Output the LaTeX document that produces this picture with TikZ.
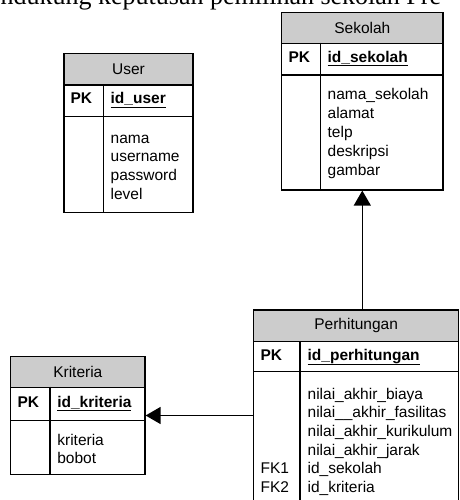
\documentclass[tikz,border=0pt]{standalone}
\usepackage{fontspec}
\setmainfont{Liberation Sans}
\newfontfamily\seriffont{Liberation Serif}
\usetikzlibrary{arrows.meta}
\begin{document}
\begin{tikzpicture}[x=1pt,y=-1pt,line width=1.3pt,
  tbl/.style={draw,inner sep=0pt,anchor=north west},
  hdr/.style={draw,fill=gray!40,inner sep=0pt,anchor=north west,font=\fontsize{15.5}{18}\selectfont},
  txt/.style={inner sep=0pt,anchor=west,text height=11pt,text depth=3pt,font=\fontsize{15.5}{18}\selectfont},
  key/.style={txt,font=\fontsize{15.5}{18}\selectfont\bfseries},
  rel/.style={-{Triangle[length=15pt,width=17pt]}}]
\useasboundingbox (0,0) rectangle (459,500);
\clip (0,0) rectangle (459,500);

% clipped running text of the page
\node[font=\seriffont\fontsize{26}{30}\selectfont,anchor=base west,inner sep=0pt] (title) at (-31.8,4.5) {mendukung keputusan pemilihan sekolah Pre};

% ---- Sekolah
\node[tbl,minimum width=161.3pt,minimum height=177.6pt] (sekolah) at (281,11.7) {};
\node[hdr,minimum width=161.3pt,minimum height=31pt] (sekolahH) at (281,11.7) {Sekolah};
\node[tbl,minimum width=161.3pt,minimum height=31.6pt] (sekolahP) at (281,42.7) {};
\draw (320.7,42.7) -- (320.7,189.3);
\node[key] (sekolahPK) at (288,58.3) {PK};
\node[key] (sekolahID) at (327,58.3) {\underline{id\_sekolah}};
\node[txt] (s1) at (327,96) {nama\_sekolah};
\node[txt] (s2) at (327,114.9) {alamat};
\node[txt] (s3) at (327,133.8) {telp};
\node[txt] (s4) at (327,152.7) {deskripsi};
\node[txt] (s5) at (327,171.6) {gambar};

% ---- User
\node[tbl,minimum width=129pt,minimum height=159pt] (user) at (63.3,52.7) {};
\node[hdr,minimum width=129pt,minimum height=31.6pt] (userH) at (63.3,52.7) {User};
\node[tbl,minimum width=129pt,minimum height=31.7pt] (userP) at (63.3,84.3) {};
\draw (103.3,84.3) -- (103.3,211.7);
\node[key] (userPK) at (70,100) {PK};
\node[key] (userID) at (110,100) {\underline{id\_user}};
\node[txt] (u1) at (110,139) {nama};
\node[txt] (u2) at (110,157.9) {username};
\node[txt] (u3) at (110,176.8) {password};
\node[txt] (u4) at (110,195.7) {level};

% ---- Kriteria
\node[tbl,minimum width=134.3pt,minimum height=118.3pt] (kriteria) at (10,355.7) {};
\node[hdr,minimum width=134.3pt,minimum height=31pt] (kriteriaH) at (10,355.7) {Kriteria};
\node[tbl,minimum width=134.3pt,minimum height=33.3pt] (kriteriaP) at (10,386.7) {};
\draw (50,386.7) -- (50,474);
\node[key] (kriteriaPK) at (17,403.3) {PK};
\node[key] (kriteriaID) at (56.7,403.3) {\underline{id\_kriteria}};
\node[txt] (k1) at (56.7,441) {kriteria};
\node[txt] (k2) at (56.7,459.9) {bobot};

% ---- Perhitungan
\node[tbl,minimum width=205pt,minimum height=200pt] (perh) at (253,309.3) {};
\node[hdr,minimum width=205pt,minimum height=31.7pt] (perhH) at (253,309.3) {Perhitungan};
\node[tbl,minimum width=205pt,minimum height=30pt] (perhP) at (253,341) {};
\draw (300,341) -- (300,510);
\node[key] (perhPK) at (260,356) {PK};
\node[key] (perhID) at (307,356) {\underline{id\_perhitungan}};
\node[txt] (p1) at (307,395) {nilai\_akhir\_biaya};
\node[txt] (p2) at (307,413.7) {nilai\_\_akhir\_fasilitas};
\node[txt] (p3) at (307,432.4) {nilai\_akhir\_kurikulum};
\node[txt] (p4) at (307,451.1) {nilai\_akhir\_jarak};
\node[txt] (p5) at (307,469.8) {id\_sekolah};
\node[txt] (p6) at (307,488.5) {id\_kriteria};
\node[txt] (fk1) at (260,469.8) {FK1};
\node[txt] (fk2) at (260,488.5) {FK2};

% ---- relations
\draw[rel] (perh.north -| sekolah.south) -- (sekolah.south);
\draw[rel] (perh.west |- kriteria.east) -- (kriteria.east);
\end{tikzpicture}
\end{document}
